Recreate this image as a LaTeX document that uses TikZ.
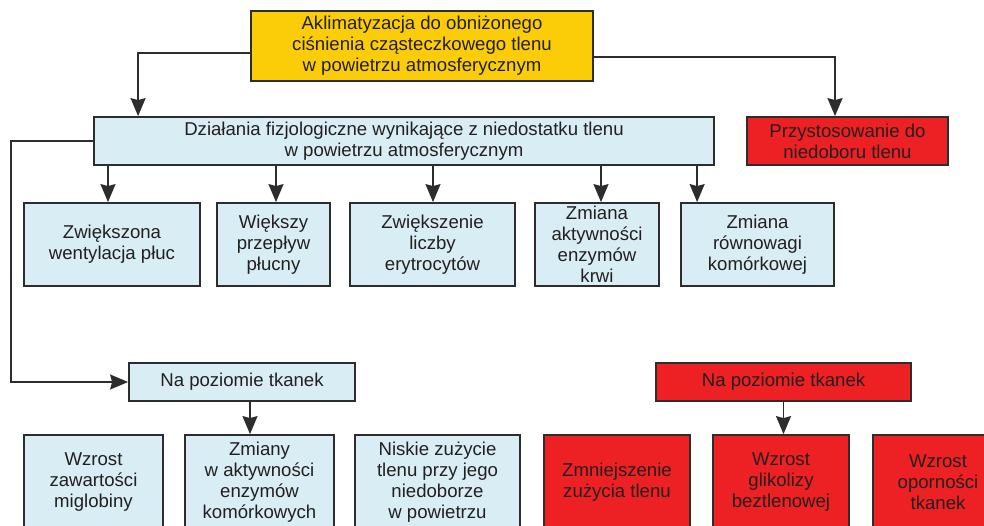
\documentclass[tikz,border=0pt]{standalone}
\usepackage{fontspec}
\setmainfont{Liberation Sans}
\usetikzlibrary{arrows.meta,calc}
\definecolor{cyel}{RGB}{251,205,8}
\definecolor{cblue}{RGB}{216,238,244}
\definecolor{cred}{RGB}{237,32,36}
\definecolor{cline}{RGB}{45,45,45}
\definecolor{ctext}{RGB}{35,31,32}
\tikzset{
  box/.style={draw=cline, line width=1.8pt, inner sep=0pt, align=center, text=ctext,
    font=\fontsize{18.6}{21}\selectfont},
  ybox/.style={box, fill=cyel},
  bbox/.style={box, fill=cblue},
  rbox/.style={box, fill=cred},
  arr/.style={draw=cline, line width=1.7pt, -{Stealth[length=18pt,width=15pt,inset=2pt]}},
}
\begin{document}
\begin{tikzpicture}[x=1pt,y=-1pt]
\useasboundingbox (0,0) rectangle (984,526);
\clip (0,0) rectangle (984,526);
\fill[white] (0,0) rectangle (984,526);

\node[ybox, minimum width=342pt, minimum height=70pt] (top) at (422,46)
  {Aklimatyzacja do obniżonego\\ciśnienia cząsteczkowego tlenu\\w powietrzu atmosferycznym};
\node[bbox, minimum width=620pt, minimum height=48pt] (phys) at (404,141)
  {Działania fizjologiczne wynikające z niedostatku tlenu\\w powietrzu atmosferycznym};
\node[rbox, minimum width=201pt, minimum height=48pt] (przyst) at (847.5,141)
  {Przystosowanie do\\niedoboru tlenu};

\node[bbox, minimum width=176pt, minimum height=83pt] (b1) at (112,244.5)
  {Zwiększona\\wentylacja płuc};
\node[bbox, minimum width=113pt, minimum height=83pt] (b2) at (273.5,244.5)
  {Większy\\przepływ\\płucny};
\node[bbox, minimum width=165pt, minimum height=83pt] (b3) at (432.5,244.5)
  {Zwiększenie\\liczby\\erytrocytów};
\node[bbox, minimum width=124pt, minimum height=83pt] (b4) at (597,244.5)
  {Zmiana\\aktywności\\enzymów\\krwi};
\node[bbox, minimum width=153pt, minimum height=83pt] (b5) at (757.5,244.5)
  {Zmiana\\równowagi\\komórkowej};

\node[bbox, minimum width=226pt, minimum height=38pt] (naL) at (242,382)
  {Na poziomie tkanek};
\node[rbox, minimum width=255pt, minimum height=38pt] (naR) at (783.5,382)
  {Na poziomie tkanek};

\node[bbox, minimum width=139pt, minimum height=94pt] (c1) at (93.5,482)
  {Wzrost\\zawartości\\miglobiny};
\node[bbox, minimum width=149pt, minimum height=94pt] (c2) at (259.5,482)
  {Zmiany\\w aktywności\\enzymów\\komórkowych};
\node[bbox, minimum width=165pt, minimum height=94pt] (c3) at (437.5,482)
  {Niskie zużycie\\tlenu przy jego\\niedoborze\\w powietrzu};
\node[rbox, minimum width=146pt, minimum height=94pt] (c4) at (617,482)
  {Zmniejszenie\\zużycia tlenu};
\node[rbox, minimum width=136pt, minimum height=94pt] (c5) at (781,482)
  {Wzrost\\glikolizy\\beztlenowej};
\node[rbox, minimum width=130pt, minimum height=94pt] (c6) at (938,482)
  {Wzrost\\oporności\\tkanek};

% connectors
\draw[arr] ([yshift=-7pt]top.west) -| ([xshift=45pt]phys.north west);
\draw[arr] ([yshift=-11pt]top.east) -| ([xshift=-12.5pt]przyst.north);

\draw[arr] ([xshift=-4pt]phys.south -| b1.south) -- ([xshift=-4pt]b1.north);
\draw[arr] ([xshift=2.5pt]phys.south -| b2.south) -- ([xshift=2.5pt]b2.north);
\draw[arr] ([xshift=0.5pt]phys.south -| b3.south) -- ([xshift=0.5pt]b3.north);
\draw[arr] ([xshift=4pt]phys.south -| b4.south) -- ([xshift=4pt]b4.north);
\draw[arr] ([xshift=17pt]phys.south -| b5.south west) -- ([xshift=17pt]b5.north west);

\coordinate (lx) at (11,141);
\draw[arr] (phys.west) -- (lx) |- (naL.west);

\draw[arr] ([xshift=8pt]naL.south) -- ([xshift=8pt]naL.south |- c2.north);
\draw[arr] (naR.south) -- (naR.south |- c5.north);
\end{tikzpicture}
\end{document}
